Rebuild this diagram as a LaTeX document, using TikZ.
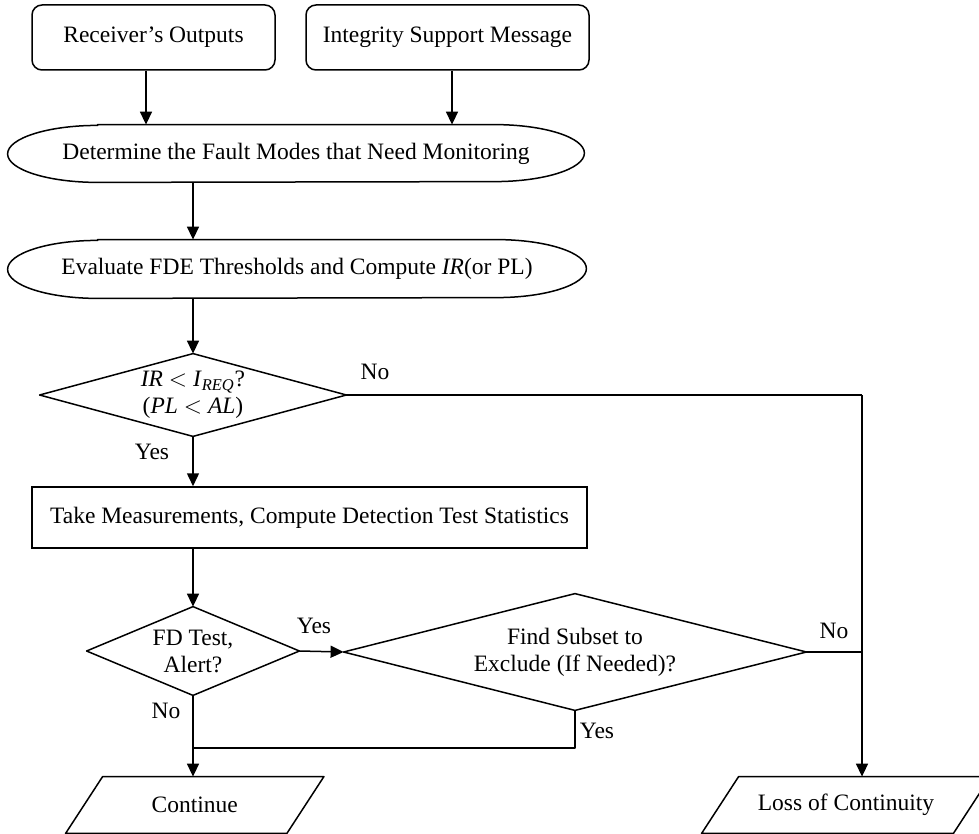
\documentclass[tikz,border=0pt]{standalone}
\usepackage{fontspec}
\setmainfont{Liberation Serif}
\usetikzlibrary{arrows.meta,calc}

% outlines drawn around plain (undrawn) rectangle nodes
% #1 node name, #2 half of the node height
\newcommand\pillline[2]{%
  \draw[line] ([xshift=45pt]#1.north west) -- ([xshift=-45pt]#1.north east)
    arc[start angle=90,end angle=-90,x radius=45pt,y radius=#2]
    -- ([xshift=45pt]#1.south west)
    arc[start angle=270,end angle=90,x radius=45pt,y radius=#2] -- cycle;}
\newcommand\diamline[1]{%
  \draw[line] (#1.north) -- (#1.east) -- (#1.south) -- (#1.west) -- cycle;}
\newcommand\slantline[1]{%
  \draw[line] ([xshift=9.25pt]#1.north west) -- ([xshift=9.25pt]#1.north east)
    -- ([xshift=-9.25pt]#1.south east) -- ([xshift=-9.25pt]#1.south west) -- cycle;}

\tikzset{
  line/.style={draw=black, line width=0.75pt, line join=round},
  arr/.style={line, -{Triangle[length=6.5pt,width=6pt]}},
  txt/.style={font=\fontsize{11.75}{13.5}\selectfont, align=center, inner sep=0pt, text=black},
  rbox/.style={txt, draw=black, line width=0.75pt, rounded corners=5pt,
               minimum width=#1, minimum height=32.5pt},
  plainbox/.style={txt, draw=black, line width=0.75pt, rectangle},
  shapebox/.style={txt, rectangle}
}

\begin{document}
\begin{tikzpicture}[x=0.5pt,y=-0.5pt]
\useasboundingbox (0,0) rectangle (979,834);
\clip (0,0) rectangle (979,834);

% inputs
\node[rbox=121.5pt] (ro) at (153.5,37.5) {Receiver’s Outputs};
\node[rbox=141.5pt] (ism) at (447.5,37.5) {Integrity Support Message};

% processing steps
\node[shapebox, minimum width=288pt, minimum height=28.5pt] (fm) at (296,153.5)
  {Determine the Fault Modes that Need Monitoring};
\node[shapebox, minimum width=289pt, minimum height=29pt] (fde) at (297,269)
  {Evaluate FDE Thresholds and Compute \textit{IR}(or PL)};
\node[shapebox, minimum width=153pt, minimum height=41pt] (ir) at (193,395)
  {\textit{IR} $<$ \textit{I}\textsubscript{\textit{REQ}}?\\(\textit{PL} $<$ \textit{AL})};
\node[plainbox, minimum width=277.5pt, minimum height=30.5pt] (tm) at (309.5,517.5)
  {Take Measurements, Compute Detection Test Statistics};
\node[shapebox, minimum width=106pt, minimum height=44pt] (fd) at (193,651)
  {FD Test,\\Alert?};
\node[shapebox, minimum width=231pt, minimum height=58pt] (fs) at (575,652)
  {Find Subset to\\Exclude (If Needed)?};

% outcomes
\node[shapebox, minimum width=110.25pt, minimum height=28pt] (co) at (194.75,805) {Continue};
\node[shapebox, minimum width=125.5pt, minimum height=28pt] (lo) at (846,805) {Loss of Continuity};

\pillline{fm}{14.25pt}
\pillline{fde}{14.5pt}
\diamline{ir}
\diamline{fd}
\diamline{fs}
\slantline{co}
\slantline{lo}

% connectors
\coordinate (roa) at ([xshift=-3.75pt]ro.south);
\coordinate (isma) at ([xshift=2.25pt]ism.south);
\draw[arr] (roa) -- (roa |- fm.north);
\draw[arr] (isma) -- (isma |- fm.north);
\draw[arr] (ir.north |- fm.south) -- (ir.north |- fde.north);
\draw[arr] (ir.north |- fde.south) -- (ir.north);
\draw[arr] (ir.south) -- (ir.south |- tm.north);
\draw[arr] (fd.north |- tm.south) -- (fd.north);
\draw[arr] (fd.east) -- (fs.west);

\coordinate (rail) at (862,395);
\draw[line] (ir.east) -- (rail);
\draw[line] (fs.east) -- (fs.east -| rail);
\draw[arr] (rail) -- (rail |- lo.north);

\coordinate (merge) at (193,748);
\draw[line] (fs.south) |- (merge);
\draw[arr] (fd.south) -- (fd.south |- co.north);

% branch labels
\node[txt] (no1) at (375,372) {No};
\node[txt] (yes1) at (152,452) {Yes};
\node[txt] (yes2) at (314,626) {Yes};
\node[txt] (no2) at (834,631) {No};
\node[txt] (yes3) at (597,731) {Yes};
\node[txt] (no3) at (166,711) {No};
\end{tikzpicture}
\end{document}
